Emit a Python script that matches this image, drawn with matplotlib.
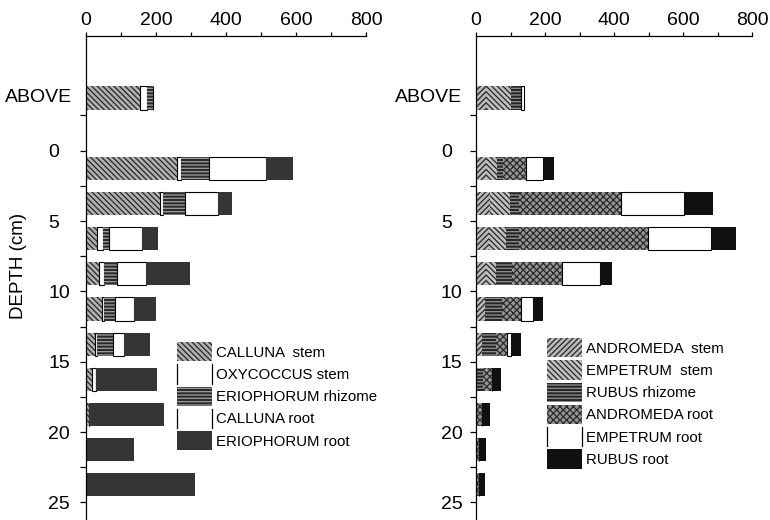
import numpy as np
import matplotlib
matplotlib.use("Agg")
import matplotlib.pyplot as plt
from matplotlib.patches import Patch
from matplotlib.lines import Line2D
from matplotlib.legend_handler import HandlerBase

plt.rcParams['font.family'] = ['Liberation Sans', 'DejaVu Sans']
plt.rcParams['hatch.linewidth'] = 0.9

# depth rows (cm); first row is material above the surface
rows = ['ABOVE', '0-2.5', '2.5-5', '5-7.5', '7.5-10', '10-12.5',
        '12.5-15', '15-17.5', '17.5-20', '20-22.5', '22.5-25']

# left panel
calluna_stem = [155, 259, 210, 30, 37, 45, 27, 18, 8, 0, 0]
oxycoccus_stem = [20, 11, 9, 19, 14, 5, 5, 10, 0, 0, 0]
erio_rhizome = [15, 82, 64, 17, 37, 33, 45, 0, 0, 0, 0]
calluna_root = [0, 162, 95, 94, 82, 54, 31, 0, 0, 0, 0]
erio_root = [0, 76, 40, 46, 127, 63, 75, 175, 214, 137, 310]

# right panel
andromeda_stem = [28, 29, 40, 38, 29, 26, 16, 0, 0, 0, 0]
empetrum_stem = [74, 32, 59, 48, 30, 0, 0, 0, 0, 0, 0]
rubus_rhizome = [28, 17, 27, 38, 46, 49, 41, 20, 0, 0, 0]
andromeda_root = [0, 67, 295, 375, 145, 55, 33, 25, 18, 10, 8]
empetrum_root = [10, 50, 183, 182, 109, 36, 12, 0, 0, 0, 0]
rubus_root = [0, 31, 82, 73, 35, 28, 28, 28, 24, 18, 18]


def row_pos(label):
    if label == 'ABOVE':
        return -3.75
    a, b = label.split('-')
    return (float(a) + float(b)) / 2


ypos = np.array([row_pos(r) for r in rows])

WHITE = dict(facecolor='white', edgecolor='black', linewidth=0.8)
styles = {
    'CALLUNA  stem': dict(facecolor='#b0b0b0', edgecolor='#262626', hatch='\\\\\\\\\\\\', linewidth=0),
    'OXYCOCCUS stem': WHITE,
    'ERIOPHORUM rhizome': dict(facecolor='#2a2a2a', edgecolor='#a0a0a0', hatch='-----', linewidth=0),
    'CALLUNA root': WHITE,
    'ERIOPHORUM root': dict(facecolor='#353535', edgecolor='#353535', linewidth=0),
    'ANDROMEDA  stem': dict(facecolor='#b8b8b8', edgecolor='#262626', hatch='//////', linewidth=0),
    'EMPETRUM  stem': dict(facecolor='#c0c0c0', edgecolor='#262626', hatch='\\\\\\\\\\\\', linewidth=0),
    'RUBUS rhizome': dict(facecolor='#262626', edgecolor='#909090', hatch='-----', linewidth=0),
    'ANDROMEDA root': dict(facecolor='#959595', edgecolor='#2a2a2a', hatch='xxxxx', linewidth=0),
    'EMPETRUM root': WHITE,
    'RUBUS root': dict(facecolor='#101010', edgecolor='#101010', linewidth=0),
}


class HandlerWhite(HandlerBase):
    def create_artists(self, legend, orig_handle, xdescent, ydescent,
                       width, height, fontsize, trans):
        x0, x1 = -xdescent, -xdescent + width
        y0, y1 = -ydescent, -ydescent + height
        return [Line2D([x0, x0], [y0, y1], color='black', lw=0.9, transform=trans),
                Line2D([x1, x1], [y0, y1], color='black', lw=0.9, transform=trans)]


fig = plt.figure(figsize=(7.7, 5.2), dpi=100)
top = 1 - 36 / 520
axL = fig.add_axes([86 / 770, 0, 280 / 770, top])
axR = fig.add_axes([476 / 770, 0, 276 / 770, top])


def draw(ax, series, pad):
    left = np.zeros(len(rows))
    for name, vals in series:
        ax.barh(ypos, vals, left=left, height=1.65, **styles[name])
        left += np.array(vals)
    ax.set_xlim(0, 800)
    ax.set_ylim(26.25, -8.15)
    ax.xaxis.tick_top()
    ax.set_xticks(np.arange(0, 801, 200))
    ax.set_xticks(np.arange(0, 801, 100), minor=True)
    ax.tick_params(axis='x', which='both', direction='out', length=3, width=0.9,
                   labelsize=14, pad=2)
    ax.set_yticks(np.arange(0, 26, 5))
    ax.set_yticks(np.arange(-2.5, 23, 5), minor=True)
    ax.tick_params(axis='y', which='both', direction='out', length=4.3, width=0.9,
                   labelsize=14, pad=pad)
    for t in ax.get_yticklabels():
        t.set_horizontalalignment('left')
    for s in ['right', 'bottom']:
        ax.spines[s].set_visible(False)
    for s in ['top', 'left']:
        ax.spines[s].set_linewidth(0.9)
    ax.annotate('ABOVE', xy=(0, -3.75), xycoords=('axes fraction', 'data'),
                xytext=(-10, 0), textcoords='offset points',
                ha='right', va='center', fontsize=14)


left_series = [('CALLUNA  stem', calluna_stem), ('OXYCOCCUS stem', oxycoccus_stem),
               ('ERIOPHORUM rhizome', erio_rhizome), ('CALLUNA root', calluna_root),
               ('ERIOPHORUM root', erio_root)]
right_series = [('ANDROMEDA  stem', andromeda_stem), ('EMPETRUM  stem', empetrum_stem),
                ('RUBUS rhizome', rubus_rhizome), ('ANDROMEDA root', andromeda_root),
                ('EMPETRUM root', empetrum_root), ('RUBUS root', rubus_root)]

draw(axL, left_series, 23)
draw(axR, right_series, 21)

fig.text(19 / 770, 1 - 266 / 520, 'DEPTH (cm)', rotation=90, ha='center',
         va='center', fontsize=13.5)


def legend(ax, series, anchor):
    handles, labels, hmap = [], [], {}
    for name, _ in series:
        st = styles[name]
        h = Patch(**st)
        if st is WHITE:
            hmap[h] = HandlerWhite()
        handles.append(h)
        labels.append(name)
    fig.legend(handles, labels, loc='upper left', bbox_to_anchor=anchor,
               frameon=False, fontsize=10.8, handlelength=2.3, handleheight=1.6,
               labelspacing=0.2, handletextpad=0.3, borderpad=0,
               borderaxespad=0, handler_map=hmap)


legend(axL, left_series, (177 / 770, 1 - 342 / 520))
legend(axR, right_series, (547 / 770, 1 - 338 / 520))

fig.savefig('out.png', dpi=100)
